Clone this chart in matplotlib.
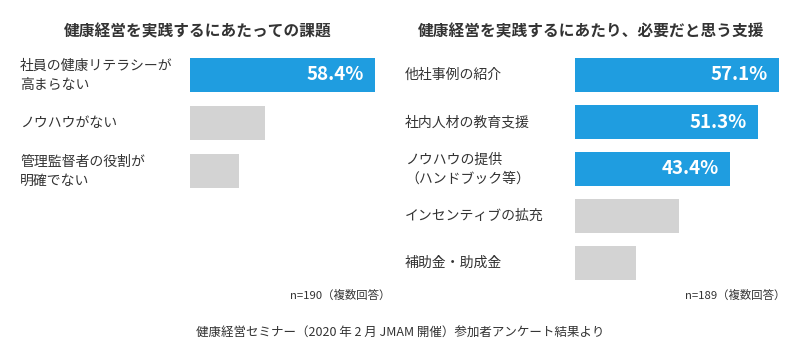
import matplotlib
matplotlib.use("Agg")
import matplotlib.pyplot as plt
import matplotlib.transforms as mtransforms

plt.rcParams['font.family'] = ['Noto Sans CJK JP', 'DejaVu Sans']

left_title = "健康経営を実践するにあたっての課題"
left_cats = ["社員の健康リテラシーが\n高まらない", "ノウハウがない", "管理監督者の役割が\n明確でない"]
left_vals = [58.4, 23.7, 15.5]
left_labeled = [True, False, False]
left_note = "n=190（複数回答）"

right_title = "健康経営を実践するにあたり、必要だと思う支援"
right_cats = ["他社事例の紹介", "社内人材の教育支援", "ノウハウの提供\n（ハンドブック等）", "インセンティブの拡充", "補助金・助成金"]
right_vals = [57.1, 51.3, 43.4, 29.0, 17.0]
right_labeled = [True, True, True, False, False]
right_note = "n=189（複数回答）"

footer = "健康経営セミナー（2020 年 2 月 JMAM 開催）参加者アンケート結果より"

BLUE = "#1f9de0"
GRAY = "#d3d3d3"
TXT = "#333333"

W, H = 800, 360
fig = plt.figure(figsize=(8, 3.6), dpi=100)

def add_panel(x0, width, top, spacing, n, pxper, vals, labeled):
    h = spacing * n
    ax = fig.add_axes([x0 / W, 1 - (top + h) / H, width / W, h / H])
    ax.set_xlim(0, width / pxper)
    ax.set_ylim(n - 0.5, -0.5)
    ys = list(range(n))
    colors = [BLUE if l else GRAY for l in labeled]
    ax.barh(ys, vals, height=34 / spacing, color=colors, left=0)
    for y, v, l in zip(ys, vals, labeled):
        if l:
            ax.text(v - 11 / pxper, y, f"{v:.1f}%", ha="right", va="center",
                    color="white", fontsize=13.5, fontweight="bold")
    ax.axis("off")
    return ax

axL = add_panel(190, 200, 51, 48, 3, 3.17, left_vals, left_labeled)
axR = add_panel(575, 215, 51.5, 47, 5, 3.57, right_vals, right_labeled)

for ax, cats, lx in [(axL, left_cats, 20), (axR, right_cats, 405)]:
    trans = mtransforms.blended_transform_factory(fig.transFigure, ax.transData)
    for i, c in enumerate(cats):
        fig.text(lx / W, i, c, transform=trans, ha="left", va="center",
                 fontsize=10, color=TXT, linespacing=1.45)

fig.text(198 / W, 1 - 31 / H, left_title, ha="center", va="center",
         fontsize=11.3, fontweight="bold", color=TXT)
fig.text(591 / W, 1 - 31 / H, right_title, ha="center", va="center",
         fontsize=11.3, fontweight="bold", color=TXT)

fig.text(390 / W, 1 - 295 / H, left_note, ha="right", va="center",
         fontsize=8.2, color=TXT)
fig.text(785 / W, 1 - 295 / H, right_note, ha="right", va="center",
         fontsize=8.2, color=TXT)
fig.text(400 / W, 1 - 333 / H, footer, ha="center", va="center",
         fontsize=9, color=TXT)

fig.savefig("out.png", dpi=100, facecolor="white")
